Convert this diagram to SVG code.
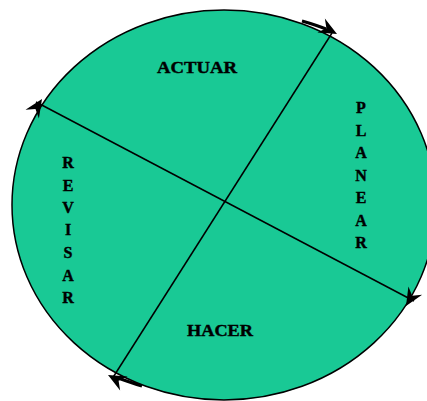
<svg xmlns="http://www.w3.org/2000/svg" width="427" height="401" viewBox="0 0 427 401">
<style>
.lbl{font-family:"Liberation Serif","DejaVu Serif",serif;font-weight:bold;font-size:16px;fill:#000;stroke:#000;stroke-width:0.4;}
.ln{stroke:#000;stroke-width:1.5;fill:none;}
.ah{fill:#000;}
</style>
<defs>
<polygon id="head" points="0,0 -18,-8 -12,0 -18,8"/>
</defs>
<g id="circle">
<ellipse cx="224" cy="205" rx="212" ry="195" fill="#19c995" stroke="#000" stroke-width="1.5"/>
</g>
<g id="connectors">
<line class="ln" x1="332" y1="33" x2="112" y2="379"/>
<line class="ln" x1="36" y1="102" x2="414" y2="301"/>
<path d="M302,21 Q316,25 326,29" stroke="#000" stroke-width="3" fill="none"/>
<path d="M118,378 Q132,383 142,386" stroke="#000" stroke-width="3" fill="none"/>
<use href="#head" class="ah" transform="translate(337,34) rotate(28)"/>
<use href="#head" class="ah" transform="translate(42,99) rotate(-57)"/>
<use href="#head" class="ah" transform="translate(406,306) rotate(121)"/>
<use href="#head" class="ah" transform="translate(108,375) rotate(208)"/>
</g>
<g id="actuar"><text class="lbl" x="197" y="73" text-anchor="middle" textLength="80" lengthAdjust="spacingAndGlyphs">ACTUAR</text></g>
<g id="hacer"><text class="lbl" x="220" y="336" text-anchor="middle" textLength="66" lengthAdjust="spacingAndGlyphs">HACER</text></g>
<g id="planear" class="lbl" text-anchor="middle">
<text x="361" y="113">P</text><text x="361" y="136">L</text><text x="361" y="158">A</text><text x="361" y="181">N</text><text x="361" y="203">E</text><text x="361" y="226">A</text><text x="361" y="248">R</text>
</g>
<g id="revisar" class="lbl" text-anchor="middle">
<text x="68" y="168">R</text><text x="68" y="191">E</text><text x="68" y="213">V</text><text x="68" y="235">I</text><text x="68" y="258">S</text><text x="68" y="281">A</text><text x="68" y="303">R</text>
</g>
</svg>
